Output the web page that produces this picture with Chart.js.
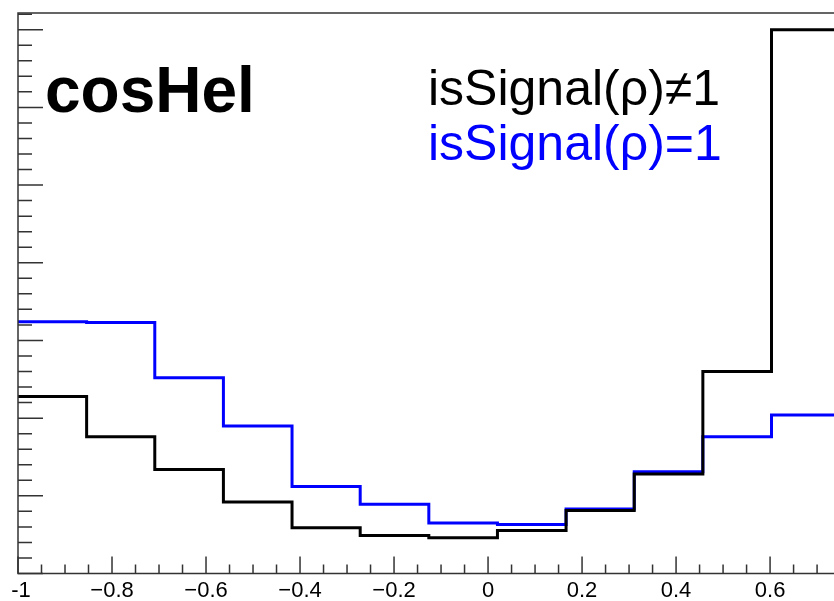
<!DOCTYPE html>
<html>
<head>
<meta charset="utf-8">
<script src="https://cdn.jsdelivr.net/npm/chart.js@4.4.1/dist/chart.umd.min.js"></script>
<style>
  html, body { margin: 0; padding: 0; background: #fff; }
  canvas { display: block; }
</style>
</head>
<body>
<canvas id="myChart" width="834" height="601"></canvas>
<script>
// cosHel histogram, 12 bins (last one runs past the visible range)
const binEdges = [-1, -0.854, -0.709, -0.563, -0.417, -0.272, -0.126, 0.020, 0.166, 0.311, 0.457, 0.603, 0.749];
const notSignal = [2.28, 1.76, 1.34, 0.92, 0.59, 0.49, 0.46, 0.555, 0.81, 1.28, 2.60, 7.00];
const isSignal = [3.24, 3.23, 2.52, 1.90, 1.12, 0.89, 0.65, 0.63, 0.83, 1.31, 1.76, 2.04];
const seriesLabels = ['isSignal(ρ)≠1', 'isSignal(ρ)=1'];
const xTickValues = [-1, -0.8, -0.6, -0.4, -0.2, 0, 0.2, 0.4, 0.6];
const xTickLabels = ['-1', '\u22120.8', '\u22120.6', '\u22120.4', '\u22120.2', '0', '0.2', '0.4', '0.6'];
const histTitle = 'cosHel';

const FONT = '"Liberation Sans", Arial, Helvetica, sans-serif';

// left bin edges + closing right edge, drawn as steps
function histPoints(values) {
  let pts = [];
  for (let i = 0; i < values.length; i++) {
    pts.push({x: binEdges[i], y: values[i]});
  }
  pts.push({x: binEdges[values.length], y: values[values.length - 1]});
  return pts;
}

const frame = {
  id: 'frame',
  afterDatasetsDraw(chart) {
    const ctx = chart.ctx;
    const a = chart.chartArea;
    const x = chart.scales.x;
    const y = chart.scales.y;
    ctx.save();
    ctx.strokeStyle = '#333';
    ctx.lineWidth = 1.5;
    ctx.beginPath();
    ctx.moveTo(a.right, a.top);
    ctx.lineTo(a.left, a.top);
    ctx.lineTo(a.left, a.bottom);
    ctx.lineTo(a.right, a.bottom);
    ctx.stroke();

    // inward ticks, ROOT style
    ctx.beginPath();
    for (let k = 0; ; k++) {
      const v = -1 + k * 0.05;
      if (v > x.max) break;
      const px = x.getPixelForValue(v);
      const len = k % 4 === 0 ? 17 : 9;
      ctx.moveTo(px, a.bottom);
      ctx.lineTo(px, a.bottom - len);
    }
    for (let k = 0; ; k++) {
      const v = k * 0.2;
      if (v > y.max) break;
      const py = y.getPixelForValue(v);
      const len = k % 5 === 0 ? 25 : 14;
      ctx.moveTo(a.left, py);
      ctx.lineTo(a.left + len, py);
    }
    ctx.stroke();

    // x tick labels
    ctx.fillStyle = '#000';
    ctx.font = '22px ' + FONT;
    ctx.textAlign = 'center';
    ctx.textBaseline = 'alphabetic';
    xTickValues.forEach((v, i) => {
      let px = x.getPixelForValue(v);
      if (i === 0) px += 3;
      ctx.fillText(xTickLabels[i], px, a.bottom + 23.5);
    });

    ctx.textAlign = 'left';
    ctx.font = 'bold 64px ' + FONT;
    ctx.fillText(histTitle, 45, 112);

    ctx.font = '50px ' + FONT;
    chart.data.datasets.forEach((ds, i) => {
      ctx.fillStyle = ds.borderColor;
      ctx.fillText(seriesLabels[i], 428, 105 + i * 55);
    });
    ctx.restore();
  }
};

const config = {
  type: 'line',
  data: {
    datasets: [{
      label: seriesLabels[0],
      data: histPoints(notSignal),
      borderColor: '#000000',
      borderWidth: 3,
      stepped: 'before',
      pointRadius: 0,
      fill: false,
      order: 0
    }, {
      label: seriesLabels[1],
      data: histPoints(isSignal),
      borderColor: '#0000ff',
      borderWidth: 3,
      stepped: 'before',
      pointRadius: 0,
      fill: false,
      order: 1
    }]
  },
  options: {
    responsive: false,
    animation: false,
    devicePixelRatio: 1,
    layout: {padding: {left: 18, top: 13, right: 0, bottom: 27.5}},
    plugins: {legend: {display: false}, tooltip: {enabled: false}},
    scales: {
      x: {
        type: 'linear',
        display: false,
        min: -1,
        max: 0.736
      },
      y: {
        display: false,
        min: 0,
        max: 7.215
      }
    }
  },
  plugins: [frame]
};

var myChart = new Chart(document.getElementById('myChart'), config);
</script>
</body>
</html>
